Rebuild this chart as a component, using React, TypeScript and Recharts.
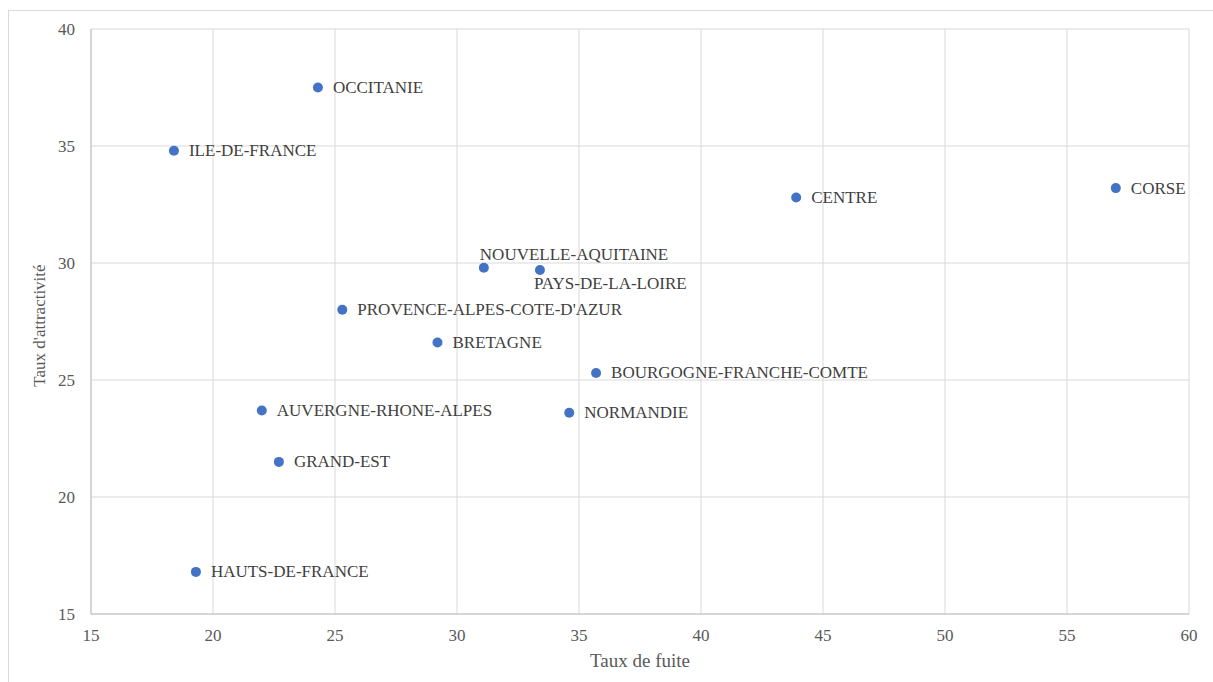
import { CartesianGrid, Label, Scatter, ScatterChart, XAxis, YAxis } from "recharts";

const regions = [
  "OCCITANIE",
  "ILE-DE-FRANCE",
  "CORSE",
  "CENTRE",
  "NOUVELLE-AQUITAINE",
  "PAYS-DE-LA-LOIRE",
  "PROVENCE-ALPES-COTE-D'AZUR",
  "BRETAGNE",
  "BOURGOGNE-FRANCHE-COMTE",
  "AUVERGNE-RHONE-ALPES",
  "NORMANDIE",
  "GRAND-EST",
  "HAUTS-DE-FRANCE",
];
const tauxFuite = [24.3, 18.4, 57.0, 43.9, 31.1, 33.4, 25.3, 29.2, 35.7, 22.0, 34.6, 22.7, 19.3];
const tauxAttractivite = [37.5, 34.8, 33.2, 32.8, 29.8, 29.7, 28.0, 26.6, 25.3, 23.7, 23.6, 21.5, 16.8];

const xTicks = [15, 20, 25, 30, 35, 40, 45, 50, 55, 60];
const yTicks = [15, 20, 25, 30, 35, 40];

// where a label sits relative to its dot (default: right)
const labelSide: Record<string, "above" | "below"> = {
  "NOUVELLE-AQUITAINE": "above",
  "PAYS-DE-LA-LOIRE": "below",
};

const data = regions.map((name, i) => ({
  name,
  x: tauxFuite[i],
  y: tauxAttractivite[i],
}));

const FONT = "'Liberation Serif', 'Times New Roman', serif";
const GREY = "#595959";

function XTick(props: any) {
  const { x, y, payload } = props;
  return (
    <text x={x} y={y + 21} textAnchor="middle" fill={GREY} fontSize={17} fontFamily={FONT}>
      {payload.value}
    </text>
  );
}

function YTick(props: any) {
  const { x, y, payload } = props;
  return (
    <text x={x} y={y} textAnchor="end" dominantBaseline="central" fill={GREY} fontSize={17} fontFamily={FONT}>
      {payload.value}
    </text>
  );
}

function Dot(props: any) {
  const { cx, cy, payload } = props;
  const side = labelSide[payload.name];
  let tx = cx + 15;
  let ty = cy;
  if (side === "above") {
    tx = cx - 4;
    ty = cy - 13;
  } else if (side === "below") {
    tx = cx - 6;
    ty = cy + 13;
  }
  return (
    <g>
      <circle cx={cx} cy={cy} r={5} fill="#4472C4" />
      <text
        x={tx}
        y={ty}
        dominantBaseline="central"
        fill="#404040"
        fontSize={17}
        fontFamily={FONT}
      >
        {payload.name}
      </text>
    </g>
  );
}

export default function App() {
  return (
    <div
      style={{
        position: "absolute",
        left: 0,
        top: 0,
        width: 1213,
        height: 682,
        overflow: "hidden",
        background: "#fff",
        fontFamily: FONT,
      }}
    >
      <div
        style={{
          position: "absolute",
          left: 8,
          top: 10,
          width: 1215,
          height: 690,
          border: "1px solid #d9d9d9",
        }}
      />
      <div style={{ position: "absolute", left: 0, top: 0 }}>
        <ScatterChart
          width={1213}
          height={682}
          margin={{ top: 29, right: 24, bottom: 38, left: 31 }}
        >
          <CartesianGrid stroke="#d9d9d9" strokeWidth={1} />
          <XAxis
            type="number"
            dataKey="x"
            domain={[15, 60]}
            ticks={xTicks}
            height={30}
            stroke="#bfbfbf"
            tickLine={false}
            tickMargin={0}
            tick={<XTick />}
            interval={0}
          >
            <Label
              content={(p: any) => {
                const vb = p.viewBox;
                return (
                  <text
                    x={vb.x + vb.width / 2}
                    y={660}
                    textAnchor="middle"
                    dominantBaseline="central"
                    fill={GREY}
                    fontSize={19}
                    fontFamily={FONT}
                  >
                    Taux de fuite
                  </text>
                );
              }}
            />
          </XAxis>
          <YAxis
            type="number"
            dataKey="y"
            domain={[15, 40]}
            ticks={yTicks}
            width={60}
            stroke="#bfbfbf"
            tickLine={false}
            tickMargin={10}
            tick={<YTick />}
            interval={0}
          >
            <Label
              content={(p: any) => {
                const vb = p.viewBox;
                const cy = vb.y + vb.height / 2 + 4;
                return (
                  <text
                    x={39}
                    y={cy}
                    transform={`rotate(-90 39 ${cy})`}
                    textAnchor="middle"
                    dominantBaseline="central"
                    fill={GREY}
                    fontSize={17}
                    fontFamily={FONT}
                  >
                    Taux d'attractivité
                  </text>
                );
              }}
            />
          </YAxis>
          <Scatter data={data} shape={Dot} isAnimationActive={false} />
        </ScatterChart>
      </div>
    </div>
  );
}
